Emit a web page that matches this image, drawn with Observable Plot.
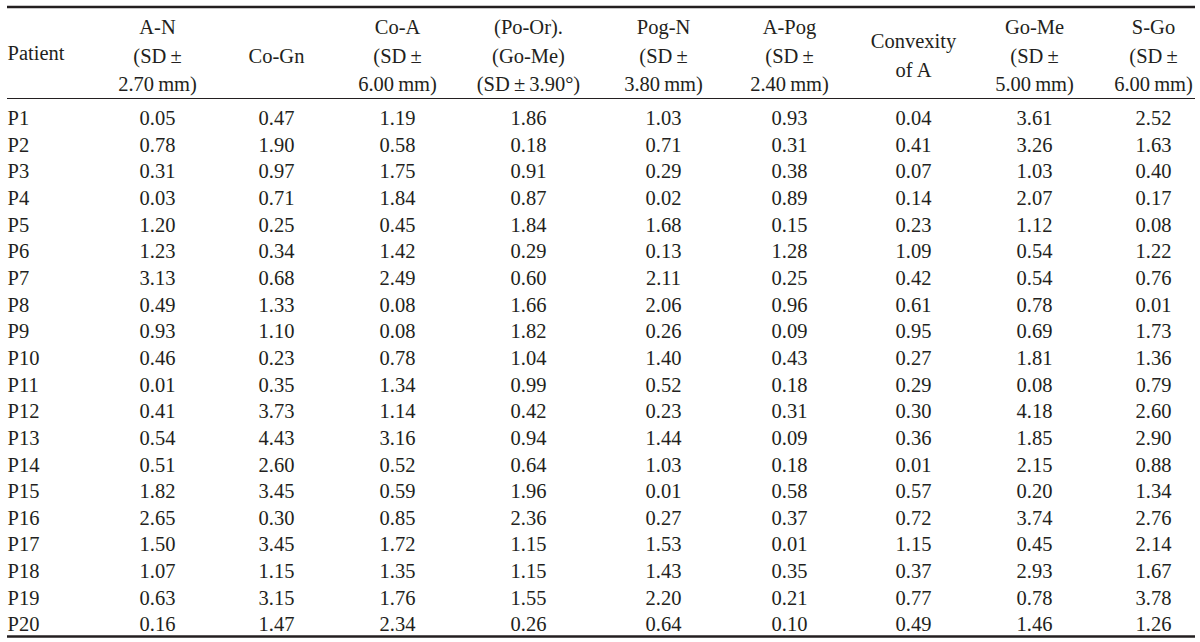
<!DOCTYPE html>
<html>
<head>
<meta charset="utf-8">
<script src="https://cdn.jsdelivr.net/npm/d3@7"></script>
<script src="https://cdn.jsdelivr.net/npm/@observablehq/plot@0.6"></script>
<style>
  html, body { margin: 0; padding: 0; background: #ffffff; }
  #chart svg { display: block; }
</style>
</head>
<body>
<div id="chart"></div>
<script>
// ---------- DATA ----------
const patients = ["P1","P2","P3","P4","P5","P6","P7","P8","P9","P10","P11","P12","P13","P14","P15","P16","P17","P18","P19","P20"];
const rowHeader = "Patient";
const columnHeaders = [
  "A-N\n(SD\u2009\u00b1\n2.70\u2009mm)",
  "Co-Gn",
  "Co-A\n(SD\u2009\u00b1\n6.00\u2009mm)",
  "(Po-Or).\n(Go-Me)\n(SD\u2009\u00b1\u20093.90\u00b0)",
  "Pog-N\n(SD\u2009\u00b1\n3.80\u2009mm)",
  "A-Pog\n(SD\u2009\u00b1\n2.40\u2009mm)",
  "Convexity\nof A",
  "Go-Me\n(SD\u2009\u00b1\n5.00\u2009mm)",
  "S-Go\n(SD\u2009\u00b1\n6.00\u2009mm)"
];
const aN      = [0.05,0.78,0.31,0.03,1.20,1.23,3.13,0.49,0.93,0.46,0.01,0.41,0.54,0.51,1.82,2.65,1.50,1.07,0.63,0.16];
const coGn    = [0.47,1.90,0.97,0.71,0.25,0.34,0.68,1.33,1.10,0.23,0.35,3.73,4.43,2.60,3.45,0.30,3.45,1.15,3.15,1.47];
const coA     = [1.19,0.58,1.75,1.84,0.45,1.42,2.49,0.08,0.08,0.78,1.34,1.14,3.16,0.52,0.59,0.85,1.72,1.35,1.76,2.34];
const poOrGoMe= [1.86,0.18,0.91,0.87,1.84,0.29,0.60,1.66,1.82,1.04,0.99,0.42,0.94,0.64,1.96,2.36,1.15,1.15,1.55,0.26];
const pogN    = [1.03,0.71,0.29,0.02,1.68,0.13,2.11,2.06,0.26,1.40,0.52,0.23,1.44,1.03,0.01,0.27,1.53,1.43,2.20,0.64];
const aPog    = [0.93,0.31,0.38,0.89,0.15,1.28,0.25,0.96,0.09,0.43,0.18,0.31,0.09,0.18,0.58,0.37,0.01,0.35,0.21,0.10];
const convexA = [0.04,0.41,0.07,0.14,0.23,1.09,0.42,0.61,0.95,0.27,0.29,0.30,0.36,0.01,0.57,0.72,1.15,0.37,0.77,0.49];
const goMe    = [3.61,3.26,1.03,2.07,1.12,0.54,0.54,0.78,0.69,1.81,0.08,4.18,1.85,2.15,0.20,3.74,0.45,2.93,0.78,1.46];
const sGo     = [2.52,1.63,0.40,0.17,0.08,1.22,0.76,0.01,1.73,1.36,0.79,2.60,2.90,0.88,1.34,2.76,2.14,1.67,3.78,1.26];
const series = [aN, coGn, coA, poOrGoMe, pogN, aPog, convexA, goMe, sGo];

// ---------- LAYOUT (positions / styles) ----------
const W = 1200, H = 642;
const colX = [157, 276, 397, 528, 663, 789, 913, 1034, 1153];
const patientX = 7;
const ruleX1 = 7, ruleX2 = 1195;
const headerY = 53;
const firstRowY = 118, rowStep = 26.65;
const topRuleY = 6.5, midRuleY = 98, bottomRuleY = 636;
const font = "Liberation Serif, Times New Roman, serif";
const fs = 20.5;
const ink = "#231f20";

const rowY = i => firstRowY + i * rowStep;

const cells = [];
series.forEach((vals, c) => vals.forEach((v, r) => cells.push({x: colX[c], y: rowY(r), text: v.toFixed(2)})));
const labels = patients.map((p, r) => ({x: patientX, y: rowY(r), text: p}));
const heads = columnHeaders.map((h, c) => ({x: colX[c], y: headerY, text: h}));

const chart = Plot.plot({
  width: W,
  height: H,
  margin: 0,
  style: {fontFamily: font, background: "#ffffff", color: ink},
  x: {type: "linear", domain: [0, W], range: [0, W], axis: null},
  y: {type: "linear", domain: [0, H], range: [0, H], axis: null},
  marks: [
    Plot.ruleY([topRuleY], {x1: ruleX1, x2: ruleX2, stroke: ink, strokeWidth: 2.5}),
    Plot.ruleY([midRuleY], {x1: ruleX1, x2: ruleX2, stroke: ink, strokeWidth: 1.2}),
    Plot.ruleY([bottomRuleY], {x1: ruleX1, x2: ruleX2, stroke: ink, strokeWidth: 2.5}),
    Plot.text([{x: patientX, y: headerY, text: rowHeader}], {x: "x", y: "y", text: "text", textAnchor: "start", fontSize: fs, fill: ink}),
    Plot.text(heads, {x: "x", y: "y", text: "text", textAnchor: "middle", lineAnchor: "middle", lineHeight: 1.38, fontSize: fs, fill: ink}),
    Plot.text(labels, {x: "x", y: "y", text: "text", textAnchor: "start", fontSize: fs, fill: ink}),
    Plot.text(cells, {x: "x", y: "y", text: "text", textAnchor: "middle", fontSize: fs, fill: ink})
  ]
});
document.getElementById("chart").appendChild(chart);
</script>
</body>
</html>
